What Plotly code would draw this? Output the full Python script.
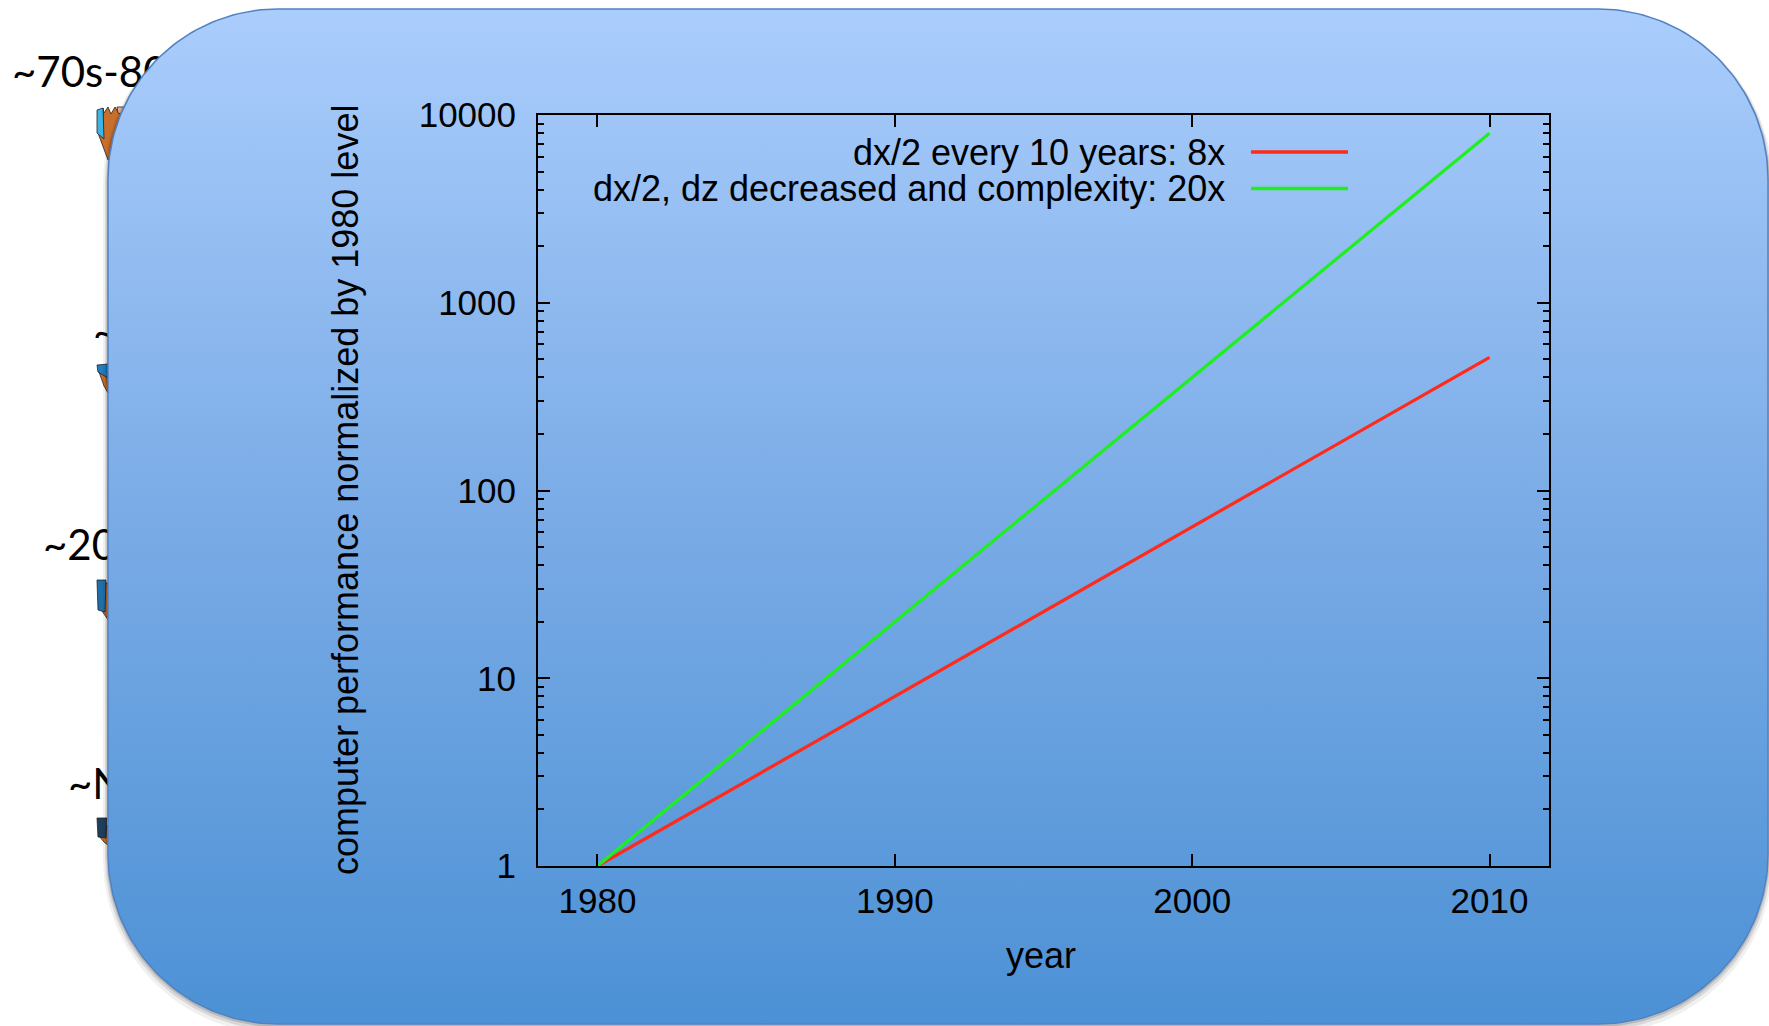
import numpy as np
import plotly.graph_objects as go

# ---------------- data ----------------
years = [1980, 1990, 2000, 2010]
perf_8x = [1, 8, 64, 512]
perf_20x = [1, 20, 400, 8000]
series_names = ["dx/2 every 10 years: 8x", "dx/2, dz decreased and complexity: 20x"]
series_colors = ["#ff2a1a", "#1ef01e"]
x_ticks = [1980, 1990, 2000, 2010]
y_ticks = [1, 10, 100, 1000, 10000]
y_ticktext = ["1", "10", "100", "1000", "10000"]
x_title = "year"
y_title = "computer performance normalized by 1980 level"
side_labels = ["~70s-80s", "~90s", "~2000s", "~Now"]

W, H = 1769, 1026
FONT = "Liberation Sans, Arial, Helvetica, sans-serif"


def rrect(x0, y0, x1, y1, r, n=48):
    xs, ys = [], []
    corners = [(x1 - r, y0 + r, -90, 0), (x1 - r, y1 - r, 0, 90),
               (x0 + r, y1 - r, 90, 180), (x0 + r, y0 + r, 180, 270)]
    for cx, cy, a0, a1 in corners:
        t = np.radians(np.linspace(a0, a1, n))
        xs += list(cx + r * np.cos(t))
        ys += list(cy + r * np.sin(t))
    xs.append(xs[0]); ys.append(ys[0])
    return xs, ys


fig = go.Figure()

# --- background slide elements (pixel axes x/y) ---
fig.add_trace(go.Scatter(
    x=[12, 93, 43, 68], y=[76, 336, 549, 788], mode="text", text=side_labels,
    textposition="middle right", textfont=dict(family="Lato, Carlito, sans-serif", size=42, color="black"),
    hoverinfo="skip", showlegend=False, xaxis="x", yaxis="y"))

icons = [
    ([(98, 133), (108, 160), (126, 160), (126, 107), (118, 112), (115, 107), (111, 114), (108, 107), (104, 113), (103, 108), (103, 138)], "#c86f2c"),
    ([(117, 107), (126, 107), (126, 116), (118, 113)], "#f0a98f"),
    ([(97, 110), (103, 108), (104, 139), (97, 133)], "#3cb4e6"),
    ([(99, 372), (107, 377), (108, 393), (104, 386)], "#c86f2c"),
    ([(97, 365), (108, 364), (108, 378), (98, 372)], "#1f7fc0"),
    ([(99, 606), (106, 583), (109, 583), (109, 621), (104, 614)], "#c86f2c"),
    ([(97, 580), (106, 580), (105, 612), (98, 610)], "#1f6fa8"),
    ([(99, 836), (106, 826), (109, 826), (109, 846), (104, 842)], "#c86f2c"),
    ([(97, 818), (107, 818), (106, 838), (98, 837)], "#1d3f5c"),
]
for poly, col in icons:
    px = [p[0] for p in poly] + [poly[0][0]]
    py = [p[1] for p in poly] + [poly[0][1]]
    fig.add_trace(go.Scatter(x=px, y=py, mode="lines", fill="toself", fillcolor=col,
                             line=dict(color="#222222", width=0.8), hoverinfo="skip",
                             showlegend=False, xaxis="x", yaxis="y"))

# shadow
for grow, dy, alpha in [(5, 5, 0.06), (3, 3, 0.10), (1.5, 1.5, 0.14)]:
    sx, sy = rrect(108 - grow, 9 - grow + dy, 1768 + grow, 1024 + grow + dy, 170 + grow)
    fig.add_trace(go.Scatter(x=sx, y=sy, mode="lines", fill="toself",
                             fillcolor=f"rgba(0,0,0,{alpha})", line=dict(width=0),
                             hoverinfo="skip", showlegend=False, xaxis="x", yaxis="y"))

# rounded rectangle with vertical gradient
rx, ry = rrect(108, 9, 1768, 1024, 170)
fig.add_trace(go.Scatter(
    x=rx, y=ry, mode="lines", fill="toself",
    fillgradient=dict(type="vertical", start=9, stop=1024,
                      colorscale=[[0, "rgb(170,205,252)"], [0.5, "rgb(122,171,230)"], [1, "rgb(76,145,213)"]]),
    line=dict(color="rgb(80,130,195)", width=1.5),
    hoverinfo="skip", showlegend=False, xaxis="x", yaxis="y"))

# --- chart (x2/y2) ---
for name, vals, col in zip(series_names, [perf_8x, perf_20x], series_colors):
    fig.add_trace(go.Scatter(x=years, y=vals, mode="lines", name=name,
                             line=dict(color=col, width=3.2), showlegend=False,
                             xaxis="x2", yaxis="y2"))

axis_common = dict(showline=True, linecolor="black", linewidth=2, mirror="ticks",
                   ticks="inside", ticklen=12, tickwidth=1.5, tickcolor="black",
                   showgrid=False, zeroline=False, automargin=False,
                   tickfont=dict(family=FONT, size=35, color="black"))

minor_vals = [m * 10 ** e for e in range(4) for m in range(2, 10)]

fig.update_layout(
    width=W, height=H, margin=dict(l=0, r=0, t=0, b=0, pad=0, autoexpand=False),
    paper_bgcolor="white", plot_bgcolor="rgba(0,0,0,0)",
    showlegend=False,
    xaxis=dict(domain=[0, 1], range=[0, W], visible=False, fixedrange=True, automargin=False),
    yaxis=dict(domain=[0, 1], range=[H, 0], visible=False, fixedrange=True, automargin=False),
    xaxis2=dict(domain=[538 / W, 1549 / W], anchor="y2", range=[1978, 2012],
                tickvals=x_ticks, ticktext=[str(v) for v in x_ticks],
                ticklabelstandoff=3, **axis_common),
    yaxis2=dict(domain=[1 - 866 / H, 1 - 115 / H], anchor="x2", type="log", range=[0, 4],
                tickvals=y_ticks, ticktext=y_ticktext, ticklabelstandoff=13,
                minor=dict(tickvals=minor_vals, ticks="inside", ticklen=6, tickwidth=1.5,
                           tickcolor="black", showgrid=False),
                **axis_common),
)

# axis titles
fig.add_annotation(x=1041, y=955, xref="x", yref="y", text=x_title, showarrow=False,
                   font=dict(family=FONT, size=36, color="black"), xanchor="center", yanchor="middle")
fig.add_annotation(x=345, y=490, xref="x", yref="y", text=y_title, showarrow=False, textangle=-90,
                   font=dict(family=FONT, size=36, color="black"), xanchor="center", yanchor="middle")

# legend (gnuplot style: text right-aligned, sample to the right)
for i, (name, col) in enumerate(zip(series_names, series_colors)):
    yy = 152 + 36.5 * i
    fig.add_annotation(x=1227, y=yy, xref="x", yref="y", text=name, showarrow=False,
                       font=dict(family=FONT, size=36, color="black"), xanchor="right", yanchor="middle")
    fig.add_shape(type="line", x0=1251, x1=1348, y0=yy, y1=yy, xref="x", yref="y",
                  line=dict(color=col, width=3.5))

fig.write_html("out.html")
